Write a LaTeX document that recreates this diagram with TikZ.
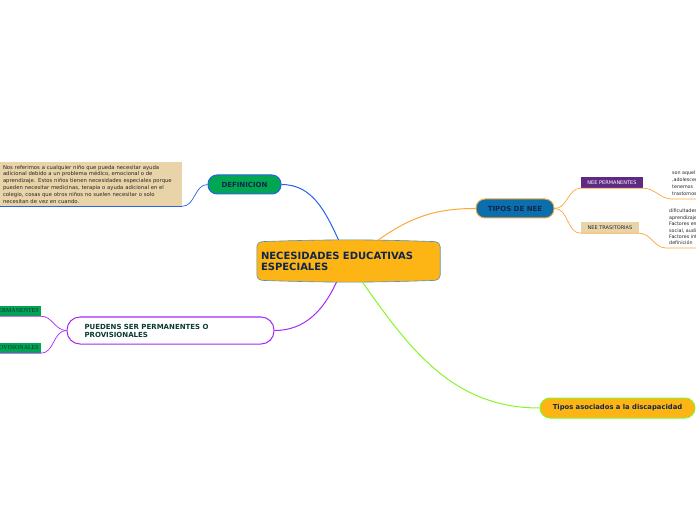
\documentclass[tikz,border=0pt]{standalone}
\usepackage{fontspec}
\setmainfont{DejaVu Sans}
\newfontfamily\tagfont{Liberation Serif}
\usepackage{xcolor}
\usetikzlibrary{positioning,calc,backgrounds}
\definecolor{coreyellow}{HTML}{FDB515}
\definecolor{coreedge}{HTML}{5A8FB4}
\definecolor{navy}{HTML}{10264A}
\definecolor{ink}{HTML}{262626}
\definecolor{defgreen}{HTML}{00A651}
\definecolor{defblue}{HTML}{2563EB}
\definecolor{notetan}{HTML}{E8D4A8}
\definecolor{tipblue}{HTML}{0B6FAE}
\definecolor{branchorange}{HTML}{F9A83A}
\definecolor{permpurple}{HTML}{5E2A84}
\definecolor{puedepurple}{HTML}{A52AF5}
\definecolor{darkgreen}{HTML}{0B3B32}
\definecolor{asocgreen}{HTML}{86F52A}
\tikzset{
  core/.style  ={rectangle, align=left, text width=175pt, minimum height=44pt, inner sep=4pt, text=navy, font=\fontsize{10}{11}\selectfont\bfseries},
  topic/.style ={draw, rectangle, rounded corners=9pt, line width=1pt, align=center, minimum height=19pt, text=navy, font=\fontsize{7}{8}\selectfont\bfseries},
  note/.style  ={rectangle, fill=notetan, align=left, inner sep=3pt, text=ink, font=\fontsize{5.3}{6.8}\selectfont},
  tag/.style   ={rectangle, minimum height=11pt, inner sep=2pt, font=\fontsize{5}{5}\selectfont},
  side/.style  ={rectangle, align=left, inner sep=2pt, text=ink},
  link/.style  ={line width=1pt},
  twig/.style  ={line width=0.7pt},
}
\begin{document}
\begin{tikzpicture}[x=1pt, y=1pt]
  \useasboundingbox (0,0) rectangle (696,520);

  % central topic
  \node[core] (nee) at (348.5,259) {NECESIDADES EDUCATIVAS\\ESPECIALES};
  \begin{scope}[on background layer]
    \filldraw[fill=coreyellow, draw=coreedge, line width=0.6pt, rounded corners=5pt]
      ($(nee.north west)+(0,-3)$) to[bend left=2] ($(nee.north east)+(0,-3)$)
      -- ($(nee.south east)+(0,3)$) to[bend left=2] ($(nee.south west)+(0,3)$) -- cycle;
  \end{scope}

  % definition branch
  \node[topic, fill=defgreen, draw=defblue, minimum width=73pt] (defn) at (244.5,335.5) {DEFINICION};
  \node[note, text width=176pt, minimum height=44pt] (defntext) at (91,336)
    {Nos referimos a cualquier niño que pueda necesitar ayuda\\
     adicional debido a un problema médico, emocional o de\\
     aprendizaje. Estos niños tienen necesidades especiales porque\\
     pueden necesitar medicinas, terapia o ayuda adicional en el\\
     colegio, cosas que otros niños no suelen necesitar o solo\\
     necesitan de vez en cuando.};

  % types branch
  \node[topic, fill=tipblue, draw=branchorange, minimum width=78pt] (tipos) at (515,311.5) {TIPOS DE NEE};
  \node[tag, fill=permpurple, text=white, minimum width=62pt] (nperm) at (612,337.5) {NEE PERMANENTES};
  \node[tag, fill=notetan, text=ink, minimum width=58pt] (ntrans) at (610,292.5) {NEE TRASITORIAS};
  \node[side, anchor=north west, font=\fontsize{4.8}{7}\selectfont] (npermtext) at (670,351)
    {son aquellas\\,adolescentes\\tenemos\\trastornos};
  \node[side, anchor=north west, font=\fontsize{4.8}{6.4}\selectfont] (ntranstext) at (667,313)
    {dificultades\\aprendizaje\\Factores emocionales\\social, auditivo\\Factores intelectuales\\definición};
  \coordinate (permfoot) at (672,321);
  \coordinate (permedge) at (700,321);
  \coordinate (transfoot) at (666,272);
  \coordinate (transedge) at (700,272);

  % permanent / provisional branch
  \node[topic, fill=white, draw=puedepurple, rounded corners=13pt, minimum width=207pt, minimum height=27pt,
        text width=172pt, align=left, text=darkgreen] (puede) at (170.5,189.5) {PUEDENS SER PERMANENTES O\\PROVISIONALES};
  \node[tag, fill=defgreen, text=navy, anchor=east, minimum height=10pt, font=\tagfont\fontsize{6}{6}\selectfont] (pperm) at (41,209) {PERMANENTES};
  \node[tag, fill=defgreen, text=navy, anchor=east, minimum height=10pt, font=\tagfont\fontsize{6}{6}\selectfont] (pprov) at (41,172) {PROVISIONALES};

  % disability branch
  \node[topic, fill=coreyellow, draw=asocgreen, rounded corners=10pt, minimum width=155pt, minimum height=20pt,
        font=\fontsize{6.8}{8}\selectfont\bfseries] (asoc) at (617.5,112) {Tipos asociados a la discapacidad};

  % main connectors
  \draw[link, defblue] ($(nee.north)+(-10,-1)$) to[out=115, in=0] (defn.east);
  \draw[link, branchorange] ($(nee.north)+(30,-1)$) to[out=35, in=180] (tipos.west);
  \draw[link, puedepurple] ($(nee.south)+(-12,1)$) to[out=-115, in=0] (puede.east);
  \draw[link, asocgreen] ($(nee.south)+(14,1)$) to[out=-55, in=180] (asoc.west);

  % sub connectors with underlines
  \draw[twig, defblue] (defn.west) to[out=180, in=0] (defntext.south east);
  \draw[line width=1.5pt, defblue] (defntext.south west) -- (defntext.south east);
  \draw[twig, branchorange] (tipos.east) to[out=0, in=180] (nperm.south west) -- (nperm.south east)
       to[out=0, in=180] (permfoot) -- (permedge);
  \draw[twig, branchorange] (tipos.east) to[out=0, in=180] (ntrans.south west) -- (ntrans.south east)
       to[out=0, in=180] (transfoot) -- (transedge);
  \draw[twig, puedepurple] (puede.west) to[out=180, in=0] (pperm.south east) -- (pperm.south west);
  \draw[twig, puedepurple] (puede.west) to[out=180, in=0] (pprov.south east) -- (pprov.south west);
\end{tikzpicture}
\end{document}
